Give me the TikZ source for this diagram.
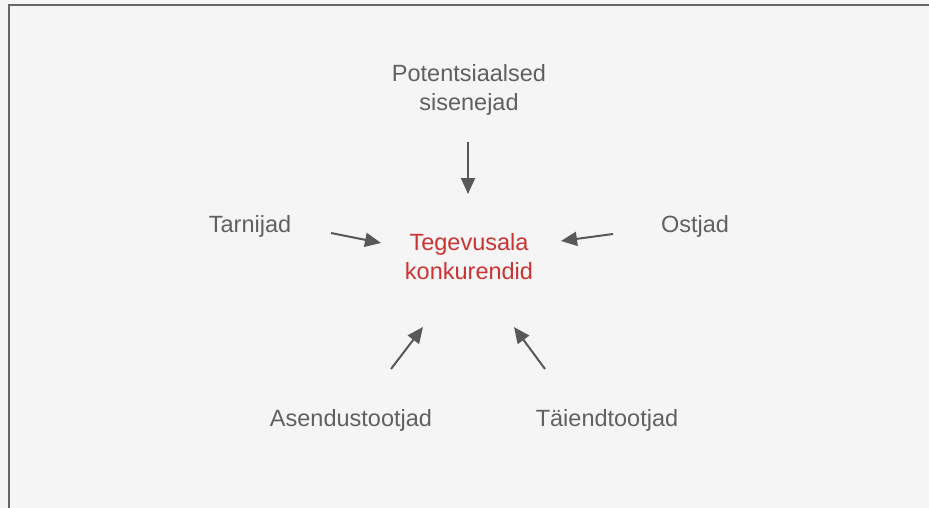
\documentclass[tikz,border=0pt]{standalone}
\usepackage{fontspec}
\setmainfont{Liberation Sans}
\usetikzlibrary{arrows.meta}
\definecolor{labelgray}{HTML}{606060}
\definecolor{corered}{HTML}{CC3333}
\definecolor{arrowgray}{HTML}{585858}
\definecolor{framegray}{HTML}{666666}
\definecolor{paper}{HTML}{F5F5F5}
\begin{document}
\begin{tikzpicture}[x=1pt,y=-1pt,
  force/.style={font=\fontsize{23.5}{29}\selectfont, text=labelgray, align=center, inner sep=0pt},
  core/.style={force, text=corered},
  push/.style={draw=arrowgray, line width=2pt, -{Triangle[length=16pt,width=14pt]}}]
  \useasboundingbox (0,0) rectangle (929,508);
  \clip (0,0) rectangle (929,508);
  % page background and frame
  \fill[paper] (0,0) rectangle (929,508);
  \draw[framegray, line width=2.5pt] (9,5) rectangle (960,540);

  % forces
  \node[force] (entrants) at (469,90) {Potentsiaalsed\\sisenejad};
  \node[force] (suppliers) at (250,226) {Tarnijad};
  \node[force] (buyers) at (695,226) {Ostjad};
  \node[force] (substitutes) at (351,420) {Asendustootjad};
  \node[force] (complements) at (607,420) {Täiendtootjad};
  \node[core] (rivals) at (469,257) {Tegevusala\\konkurendid};

  % arrow ends
  \coordinate (e1) at (468,142); \coordinate (e2) at (468,194);
  \coordinate (s1) at (331,233); \coordinate (s2) at (381,243);
  \coordinate (b1) at (613,234); \coordinate (b2) at (561,241);
  \coordinate (u1) at (391,369); \coordinate (u2) at (423,327);
  \coordinate (c1) at (545,369); \coordinate (c2) at (514,327);

  \draw[push] (e1) -- (e2);
  \draw[push] (s1) -- (s2);
  \draw[push] (b1) -- (b2);
  \draw[push] (u1) -- (u2);
  \draw[push] (c1) -- (c2);
\end{tikzpicture}
\end{document}
